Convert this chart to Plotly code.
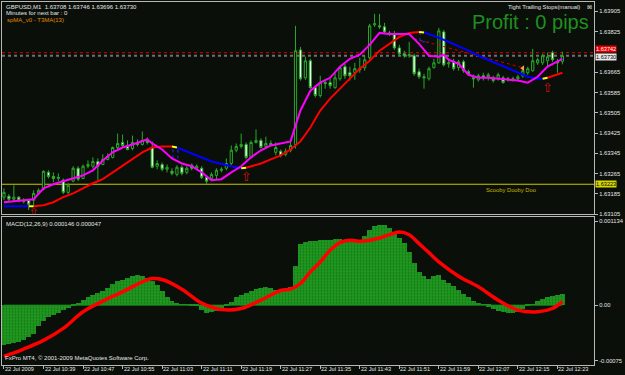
import plotly.graph_objects as go

# ---------------- data ----------------
tick_bars = [0, 8, 16, 24, 32, 40, 48, 56, 64, 72, 80, 88, 96, 104, 112]
tick_labels = ["22 Jul 2009", "22 Jul 10:39", "22 Jul 10:47", "22 Jul 10:55", "22 Jul 11:03",
               "22 Jul 11:11", "22 Jul 11:19", "22 Jul 11:27", "22 Jul 11:35", "22 Jul 11:43",
               "22 Jul 11:51", "22 Jul 11:59", "22 Jul 12:07", "22 Jul 12:15", "22 Jul 12:23"]

bars = list(range(114))  # one bar per minute, 10:31 .. 12:24

opens = [1.63172, 1.63176, 1.63164, 1.63172, 1.63160, 1.63160, 1.63160, 1.63187, 1.63203, 1.63270,
         1.63254, 1.63246, 1.63239, 1.63191, 1.63235, 1.63286, 1.63246, 1.63294, 1.63294, 1.63313,
         1.63301, 1.63321, 1.63329, 1.63368, 1.63388, 1.63376, 1.63364, 1.63388, 1.63380, 1.63396,
         1.63368, 1.63294, 1.63301, 1.63282, 1.63274, 1.63262, 1.63290, 1.63270, 1.63298, 1.63286,
         1.63286, 1.63250, 1.63246, 1.63258, 1.63278, 1.63286, 1.63305, 1.63357, 1.63372, 1.63380,
         1.63329, 1.63388, 1.63396, 1.63372, 1.63384, 1.63349, 1.63353, 1.63341, 1.63357, 1.63380,
         1.63753, 1.63643, 1.63710, 1.63604, 1.63573, 1.63624, 1.63624, 1.63604, 1.63639, 1.63687,
         1.63663, 1.63663, 1.63679, 1.63683, 1.63722, 1.63852, 1.63848, 1.63844, 1.63820, 1.63816,
         1.63761, 1.63738, 1.63730, 1.63730, 1.63667, 1.63647, 1.63639, 1.63683, 1.63702, 1.63824,
         1.63698, 1.63706, 1.63683, 1.63706, 1.63667, 1.63643, 1.63635, 1.63651, 1.63647, 1.63643,
         1.63639, 1.63643, 1.63635, 1.63639, 1.63639, 1.63651, 1.63663, 1.63671, 1.63702, 1.63702,
         1.63710, 1.63742, 1.63706, 1.63708]
highs = [1.63207, 1.63184, 1.63219, 1.63176, 1.63168, 1.63164, 1.63199, 1.63207, 1.63278, 1.63278,
         1.63270, 1.63266, 1.63246, 1.63227, 1.63294, 1.63294, 1.63301, 1.63317, 1.63329, 1.63325,
         1.63341, 1.63345, 1.63372, 1.63423, 1.63419, 1.63396, 1.63415, 1.63400, 1.63431, 1.63408,
         1.63392, 1.63317, 1.63309, 1.63301, 1.63286, 1.63298, 1.63298, 1.63294, 1.63305, 1.63301,
         1.63294, 1.63258, 1.63270, 1.63286, 1.63290, 1.63325, 1.63376, 1.63384, 1.63423, 1.63388,
         1.63396, 1.63439, 1.63404, 1.63411, 1.63396, 1.63388, 1.63360, 1.63364, 1.63392, 1.63848,
         1.63765, 1.63726, 1.63718, 1.63612, 1.63651, 1.63639, 1.63639, 1.63663, 1.63690, 1.63698,
         1.63687, 1.63702, 1.63722, 1.63730, 1.63856, 1.63895, 1.63895, 1.63860, 1.63828, 1.63828,
         1.63773, 1.63750, 1.63785, 1.63738, 1.63679, 1.63659, 1.63687, 1.63718, 1.63840, 1.63832,
         1.63718, 1.63718, 1.63714, 1.63714, 1.63675, 1.63655, 1.63659, 1.63663, 1.63663, 1.63651,
         1.63663, 1.63651, 1.63647, 1.63647, 1.63655, 1.63679, 1.63687, 1.63757, 1.63722, 1.63738,
         1.63742, 1.63750, 1.63718, 1.63746]
lows = [1.63160, 1.63156, 1.63156, 1.63152, 1.63148, 1.63121, 1.63140, 1.63180, 1.63199, 1.63246,
        1.63231, 1.63235, 1.63184, 1.63184, 1.63231, 1.63235, 1.63243, 1.63286, 1.63286, 1.63239,
        1.63298, 1.63317, 1.63325, 1.63360, 1.63368, 1.63357, 1.63357, 1.63372, 1.63376, 1.63380,
        1.63286, 1.63282, 1.63274, 1.63270, 1.63258, 1.63254, 1.63258, 1.63262, 1.63278, 1.63278,
        1.63243, 1.63223, 1.63235, 1.63239, 1.63270, 1.63278, 1.63298, 1.63349, 1.63364, 1.63321,
        1.63325, 1.63384, 1.63364, 1.63364, 1.63372, 1.63337, 1.63329, 1.63333, 1.63349, 1.63364,
        1.63632, 1.63635, 1.63600, 1.63565, 1.63565, 1.63600, 1.63600, 1.63600, 1.63632, 1.63639,
        1.63632, 1.63635, 1.63663, 1.63671, 1.63714, 1.63844, 1.63836, 1.63816, 1.63808, 1.63753,
        1.63730, 1.63722, 1.63722, 1.63651, 1.63639, 1.63600, 1.63632, 1.63679, 1.63698, 1.63687,
        1.63683, 1.63671, 1.63671, 1.63663, 1.63651, 1.63604, 1.63628, 1.63632, 1.63632, 1.63624,
        1.63632, 1.63620, 1.63628, 1.63628, 1.63632, 1.63643, 1.63655, 1.63667, 1.63694, 1.63694,
        1.63687, 1.63706, 1.63663, 1.63696]
closes = [1.63191, 1.63164, 1.63172, 1.63160, 1.63156, 1.63144, 1.63187, 1.63199, 1.63274, 1.63254,
          1.63246, 1.63250, 1.63191, 1.63219, 1.63286, 1.63243, 1.63294, 1.63301, 1.63313, 1.63294,
          1.63321, 1.63333, 1.63368, 1.63384, 1.63376, 1.63360, 1.63388, 1.63380, 1.63396, 1.63388,
          1.63290, 1.63305, 1.63282, 1.63290, 1.63266, 1.63290, 1.63266, 1.63286, 1.63286, 1.63294,
          1.63250, 1.63235, 1.63262, 1.63278, 1.63282, 1.63305, 1.63357, 1.63372, 1.63380, 1.63329,
          1.63388, 1.63396, 1.63368, 1.63384, 1.63380, 1.63368, 1.63337, 1.63353, 1.63376, 1.63750,
          1.63639, 1.63710, 1.63604, 1.63573, 1.63624, 1.63620, 1.63612, 1.63643, 1.63683, 1.63651,
          1.63651, 1.63679, 1.63675, 1.63714, 1.63848, 1.63856, 1.63844, 1.63824, 1.63816, 1.63761,
          1.63738, 1.63730, 1.63734, 1.63659, 1.63647, 1.63643, 1.63679, 1.63702, 1.63828, 1.63694,
          1.63702, 1.63679, 1.63706, 1.63671, 1.63659, 1.63639, 1.63651, 1.63643, 1.63655, 1.63632,
          1.63655, 1.63624, 1.63639, 1.63635, 1.63647, 1.63671, 1.63679, 1.63710, 1.63714, 1.63730,
          1.63726, 1.63714, 1.63702, 1.63730]

# fast T3 MA (magenta)
fast_bars = [0, 2, 4, 6, 8, 10, 12, 14, 16, 18, 20, 22, 24, 26, 28, 29, 30, 32, 34, 36,
             38, 40, 42, 44, 46, 48, 50, 52, 54, 56, 58, 59, 60, 62, 64, 66, 68, 70, 72, 74,
             76, 78, 80, 82, 84, 86, 88, 89, 90, 92, 94, 96, 98, 100, 102, 104, 106, 108, 110, 112, 113]
fast_vals = [1.63152, 1.63156, 1.63160, 1.63164, 1.63207, 1.63223, 1.63235, 1.63246, 1.63258, 1.63278,
             1.63317, 1.63349, 1.63368, 1.63380, 1.63392, 1.63400, 1.63384, 1.63360, 1.63325, 1.63305,
             1.63294, 1.63270, 1.63239, 1.63243, 1.63270, 1.63294, 1.63329, 1.63357, 1.63376, 1.63384,
             1.63392, 1.63455, 1.63514, 1.63592, 1.63624, 1.63643, 1.63687, 1.63718, 1.63734, 1.63773,
             1.63820, 1.63816, 1.63816, 1.63816, 1.63777, 1.63730, 1.63726, 1.63734, 1.63714, 1.63698,
             1.63655, 1.63643, 1.63643, 1.63639, 1.63635, 1.63632, 1.63624, 1.63647, 1.63687, 1.63706, 1.63718]

# slow MA (red when rising, blue when falling)
slow_bars = [0, 2, 4, 5, 6, 8, 10, 12, 14, 16, 18, 20, 22, 24, 26, 28, 30, 32, 34, 35,
             38, 42, 46, 48, 49, 50, 52, 54, 56, 58, 60, 62, 64, 66, 68, 70, 72, 74, 76, 78,
             80, 82, 84, 85, 86, 88, 90, 92, 94, 96, 98, 100, 102, 104, 106, 108, 109, 110, 112, 113]
slow_vals = [1.63136, 1.63136, 1.63136, 1.63136, 1.63136, 1.63140, 1.63152, 1.63172, 1.63187, 1.63207,
             1.63227, 1.63243, 1.63270, 1.63298, 1.63325, 1.63349, 1.63368, 1.63372, 1.63372, 1.63368,
             1.63345, 1.63313, 1.63294, 1.63286, 1.63288, 1.63294, 1.63305, 1.63321, 1.63337, 1.63360,
             1.63392, 1.63447, 1.63514, 1.63561, 1.63600, 1.63639, 1.63679, 1.63710, 1.63750, 1.63777,
             1.63804, 1.63820, 1.63824, 1.63822, 1.63816, 1.63801, 1.63785, 1.63769, 1.63750, 1.63730,
             1.63714, 1.63698, 1.63679, 1.63663, 1.63647, 1.63639, 1.63639, 1.63643, 1.63655, 1.63663]
slow_states = [(0, 5, "down"), (5, 6, "turn"), (6, 34, "up"), (34, 35, "turn"), (35, 48, "down"),
               (48, 49, "turn"), (49, 84, "up"), (84, 85, "turn"), (85, 109, "down"),
               (109, 110, "turn"), (110, 113, "up")]

signal_arrow_bars = [6, 49, 110]
signal_arrow_prices = [1.63106, 1.63250, 1.63600]

trend_bars = [83, 105]
trend_prices = [1.63797, 1.63683]
order_bar = [105]
order_price = [1.63681]

bracket1_bars = [34.2, 34.2, 35.2, 35.2]
bracket1_prices = [1.63325, 1.63368, 1.63368, 1.63325]
bracket2_bars = [84.2, 84.2, 86.0]
bracket2_prices = [1.63824, 1.63785, 1.63785]

level_red = 1.63742
level_bid = 1.63730
level_yellow = 1.63223

price_ticks = [1.63105, 1.63185, 1.63265, 1.63345, 1.63425, 1.63505, 1.63585, 1.63665, 1.63825, 1.63905]
price_tick_labels = ["1.63105", "1.63185", "1.63265", "1.63345", "1.63425", "1.63505", "1.63585",
                     "1.63665", "1.63825", "1.63905"]

macd_hist = [-0.000540, -0.000531, -0.000518, -0.000504, -0.000473, -0.000441, -0.000396, -0.000293, -0.000216, -0.000171,
             -0.000135, -0.000108, -0.000077, -0.000045, -0.000009, 0.000018, 0.000063, 0.000104, 0.000135, 0.000162,
             0.000189, 0.000225, 0.000279, 0.000315, 0.000338, 0.000360, 0.000387, 0.000405, 0.000396, 0.000369,
             0.000324, 0.000261, 0.000189, 0.000108, 0.000054, 0.000023, 0.000005, 0.000002, -0.000005, -0.000018,
             -0.000072, -0.000108, -0.000104, -0.000081, -0.000059, -0.000018, 0.000036, 0.000099, 0.000131, 0.000158,
             0.000189, 0.000212, 0.000225, 0.000234, 0.000221, 0.000203, 0.000203, 0.000216, 0.000234, 0.000518,
             0.000819, 0.000846, 0.000864, 0.000864, 0.000873, 0.000878, 0.000878, 0.000887, 0.000891, 0.000882,
             0.000878, 0.000878, 0.000878, 0.000936, 0.001013, 0.001067, 0.001080, 0.001080, 0.001044, 0.000981,
             0.000909, 0.000833, 0.000711, 0.000563, 0.000450, 0.000383, 0.000351, 0.000383, 0.000405, 0.000333,
             0.000293, 0.000248, 0.000198, 0.000149, 0.000099, 0.000054, 0.000018, 0.000002, -0.000027, -0.000054,
             -0.000081, -0.000099, -0.000113, -0.000113, -0.000095, -0.000059, -0.000023, 0.000009, 0.000045, 0.000081,
             0.000108, 0.000122, 0.000135, 0.000146]
signal_bars = [0, 4, 8, 12, 16, 20, 24, 28, 30, 32, 36, 40, 44, 48, 52, 56, 58, 60, 62, 64,
               66, 68, 70, 72, 74, 76, 78, 80, 82, 84, 86, 88, 92, 96, 100, 104, 108, 111, 113]
signal_vals = [-0.000693, -0.000594, -0.000477, -0.000315, -0.000090, 0.000054, 0.000180, 0.000315, 0.000360, 0.000347,
               0.000216, 0.000027, -0.000059, -0.000045, 0.000068, 0.000198, 0.000216, 0.000293, 0.000450, 0.000585,
               0.000743, 0.000846, 0.000878, 0.000864, 0.000878, 0.000909, 0.000954, 0.000990, 0.000954, 0.000833,
               0.000711, 0.000585, 0.000392, 0.000248, 0.000068, -0.000068, -0.000090, -0.000045, 0.000047]
macd_ticks = [0.001134, 0.0, -0.00075]
macd_tick_labels = ["0.001134", "0.00", "-0.00075"]

header_line1 = "GBPUSD,M1  1.63708 1.63746 1.63696 1.63730"
header_line2 = "Minutes for next bar : 0"
header_line3 = "spMA_v0 - T3MA(13)"
macd_title = "MACD(12,26,9) 0.000146 0.000047"
copyright_text = "FxPro MT4, © 2001-2009 MetaQuotes Software Corp."
profit_text = "Profit : 0 pips"
panel_text = "Tight Trailing Stops(manual)"
level_text = "Scooby Dooby Doo"

# ---------------- style ----------------
BG = "#0a0f0a"
FRAME = "#b8b8b8"
TXT = "#e6e6e6"
CANDLE = "#2aa82a"
FONT = "Liberation Sans, Arial, sans-serif"
W, H = 625, 375
ML, MR, MT, MB = 1, 25, 1, 10
PW, PH = W - ML - MR, H - MT - MB


def pxx(x):
    return (x - ML) / PW


def pxy(y):
    return (H - MB - y) / PH


state_color = {"down": "#0000ff", "turn": "#ffff00", "up": "#ff0000"}

fig = go.Figure()

fig.add_trace(go.Candlestick(
    x=bars, open=opens, high=highs, low=lows, close=closes,
    increasing=dict(line=dict(color=CANDLE, width=1), fillcolor=BG),
    decreasing=dict(line=dict(color=CANDLE, width=1), fillcolor="#ffffff"),
    whiskerwidth=0, showlegend=False, hoverinfo="skip", xaxis="x", yaxis="y"))

# level lines
for lvl, col, dash, wd in [(level_yellow, "#c8c800", "solid", 1), (level_bid, "#707070", "dot", 2),
                           (level_red, "#e00000", "dot", 1)]:
    fig.add_shape(type="line", xref="paper", x0=0, x1=1, yref="y", y0=lvl, y1=lvl,
                  line=dict(color=col, width=wd, dash=dash), layer="below")

# trend line (dotted red) and small brackets
fig.add_trace(go.Scatter(x=trend_bars, y=trend_prices, mode="lines",
                         line=dict(color="#d00000", width=1, dash="dot"),
                         showlegend=False, hoverinfo="skip", xaxis="x", yaxis="y"))
for bx, by in [(bracket1_bars, bracket1_prices), (bracket2_bars, bracket2_prices)]:
    fig.add_trace(go.Scatter(x=bx, y=by, mode="lines", line=dict(color="#2030ff", width=1, dash="dot"),
                             showlegend=False, hoverinfo="skip", xaxis="x", yaxis="y"))

# slow MA segments
for state_order in ["down", "up", "turn"]:
    for a, b, st in slow_states:
        if st != state_order:
            continue
        sx = [bx for bx in slow_bars if a <= bx <= b]
        sy = [slow_vals[slow_bars.index(bx)] for bx in sx]
        fig.add_trace(go.Scatter(x=sx, y=sy, mode="lines",
                                 line=dict(color=state_color[st], width=2),
                                 showlegend=False, hoverinfo="skip", xaxis="x", yaxis="y"))

# fast MA
fig.add_trace(go.Scatter(x=fast_bars, y=fast_vals, mode="lines", line=dict(color="#ff00ff", width=2),
                         showlegend=False, hoverinfo="skip", xaxis="x", yaxis="y"))

# order marker
fig.add_trace(go.Scatter(x=order_bar, y=order_price, mode="markers",
                         marker=dict(symbol="triangle-left", size=5, color="#ffa040"),
                         showlegend=False, hoverinfo="skip", xaxis="x", yaxis="y"))

# buy arrows
fig.add_trace(go.Scatter(x=signal_arrow_bars, y=signal_arrow_prices, mode="text",
                         text=["⇧"] * len(signal_arrow_bars),
                         textfont=dict(family="DejaVu Sans", size=13, color="#d01010"),
                         cliponaxis=True, showlegend=False, hoverinfo="skip", xaxis="x", yaxis="y"))

# MACD histogram
fig.add_trace(go.Bar(x=bars, y=macd_hist,
                     marker=dict(color="#1f9a1f", line=dict(width=0),
                                 pattern=dict(shape=".", fgcolor="#0d4d0d", size=3, solidity=0.3)),
                     showlegend=False, hoverinfo="skip", xaxis="x2", yaxis="y2"))
fig.add_trace(go.Scatter(x=[bars[0], bars[-1]], y=[0, 0], mode="lines",
                         line=dict(color="#1c8f1c", width=1),
                         showlegend=False, hoverinfo="skip", xaxis="x2", yaxis="y2"))
fig.add_trace(go.Scatter(x=signal_bars, y=signal_vals, mode="lines", line=dict(color="#ff0000", width=3.5, shape="spline"),
                         showlegend=False, hoverinfo="skip", xaxis="x2", yaxis="y2"))

x_range = [-0.4, -0.4 + PW / 5]
main_top_px, main_bot_px = 1, 214
macd_top_px, macd_bot_px = 217, 365
main_range = [1.63104, 1.63942]
macd_range = [-0.00081, 0.001188]

axis_common = dict(showgrid=False, zeroline=False, showline=True, linecolor=FRAME, linewidth=1, mirror=True)

fig.update_layout(
    width=W, height=H, margin=dict(l=ML, r=MR, t=MT, b=MB),
    paper_bgcolor=BG, plot_bgcolor=BG, showlegend=False, bargap=0, boxgap=0.35,
    font=dict(family=FONT, size=6, color=TXT),
    xaxis=dict(domain=[0, 1], anchor="y", range=x_range, showticklabels=False, ticks="",
               rangeslider=dict(visible=False), **axis_common),
    yaxis=dict(domain=[pxy(main_bot_px), 1], anchor="x", range=main_range, side="right",
               tickvals=price_ticks, ticktext=price_tick_labels, ticks="outside", ticklen=3,
               tickcolor=FRAME, tickfont=dict(size=5.8, color=TXT), **axis_common),
    xaxis2=dict(domain=[0, 1], anchor="y2", range=x_range, tickvals=tick_bars, ticks="outside",
                ticklen=3, tickcolor=FRAME, showticklabels=False, **axis_common),
    yaxis2=dict(domain=[0, pxy(macd_top_px)], anchor="x2", range=macd_range, side="right",
                tickvals=macd_ticks, ticktext=macd_tick_labels, ticks="outside", ticklen=3,
                tickcolor=FRAME, tickfont=dict(size=5.8, color=TXT), **axis_common),
)

ann = []
# time labels
for b, lab in zip(tick_bars, tick_labels):
    ann.append(dict(x=b, xref="x2", y=pxy(369), yref="paper", text=lab, showarrow=False,
                    xanchor="left", yanchor="middle", xshift=-1,
                    font=dict(size=5.6, color=TXT)))
# header texts
ann.append(dict(x=pxx(3), y=pxy(6), text=header_line1, font=dict(size=6, color=TXT)))
ann.append(dict(x=pxx(3), y=pxy(12.5), text=header_line2, font=dict(size=6, color=TXT)))
ann.append(dict(x=pxx(4), y=pxy(19), text=header_line3, font=dict(size=6, color="#e08a00")))
ann.append(dict(x=pxx(3), y=pxy(224), text=macd_title, font=dict(size=6, color=TXT)))
ann.append(dict(x=pxx(2), y=pxy(358), text=copyright_text, font=dict(size=6, color=TXT)))
for a in ann[-5:]:
    a.update(xref="paper", yref="paper", showarrow=False, xanchor="left", yanchor="middle")

ann.append(dict(x=pxx(597), y=pxy(21), xref="paper", yref="paper", text=profit_text, showarrow=False,
                xanchor="right", yanchor="middle", font=dict(size=20, color="#1f8f1f")))
ann.append(dict(x=pxx(588), y=pxy(6), xref="paper", yref="paper", text=panel_text, showarrow=False,
                xanchor="right", yanchor="middle", font=dict(size=5.8, color=TXT)))
ann.append(dict(x=pxx(595), y=pxy(6), xref="paper", yref="paper", text="⊠", showarrow=False,
                xanchor="center", yanchor="middle", font=dict(family="DejaVu Sans", size=6, color=TXT)))
ann.append(dict(x=pxx(489), y=level_yellow, xref="paper", yref="y", text=level_text, showarrow=False,
                xanchor="left", yanchor="top", yshift=-1, font=dict(size=5.8, color="#c8b400")))
# price boxes on the price scale
for lvl, bg, fg, lab, ys in [(level_red, "#e00000", "#ffffff", "1.63742", 4),
                             (level_bid, "#e8e8e8", "#000000", "1.63730", -1),
                             (level_yellow, "#d8d800", "#000000", "1.63223", 0)]:
    ann.append(dict(x=1, xref="paper", y=lvl, yref="y", text=lab, showarrow=False, xanchor="left",
                    yanchor="middle", xshift=1, yshift=ys, bgcolor=bg, borderpad=0,
                    font=dict(size=5.6, color=fg)))

fig.update_layout(annotations=ann)
fig.write_html("out.html")
